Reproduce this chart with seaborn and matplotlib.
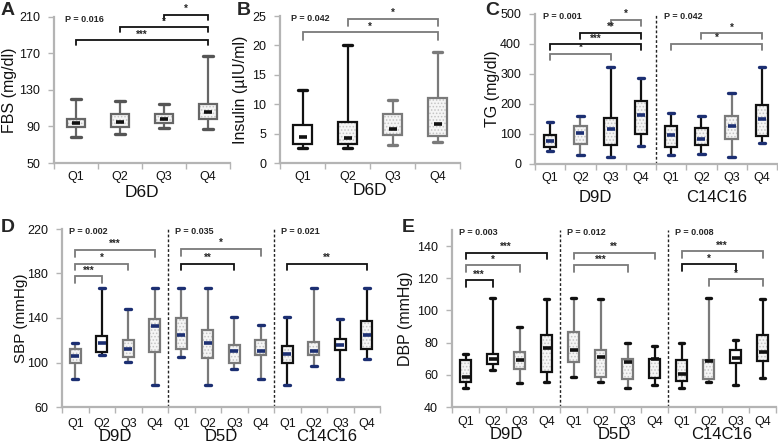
import numpy as np
import matplotlib
matplotlib.use('Agg')
import matplotlib.pyplot as plt
from matplotlib.patches import PathPatch
import seaborn as sns

sns.set_style('white')
plt.rcParams['font.family'] = ['Liberation Sans', 'DejaVu Sans']
plt.rcParams['hatch.linewidth'] = 0.7

quartiles = ['Q1', 'Q2', 'Q3', 'Q4']

# A: fasting blood sugar by D6D quartile
fbs_low = [78, 81.6, 88.5, 87.4]
fbs_q1 = [89, 89.6, 93.3, 98.1]
fbs_med = [93.3, 94.8, 98.4, 105.8]
fbs_q3 = [98.5, 103.6, 104, 115]
fbs_high = [120.5, 118.3, 114.6, 167.8]
fbs_groups = ['D6D']
fbs_pvals = ['P = 0.016']
fbs_pairs = [(2, 3, '*'), (1, 3, '*'), (0, 3, '***')]
fbs_levels = [212.6, 198.6, 184.7]

# B: insulin by D6D quartile
ins_low = [2.5, 2.5, 3.1, 3.5]
ins_q1 = [3.3, 3.2, 4.7, 4.6]
ins_med = [4.5, 4.2, 5.8, 6.7]
ins_q3 = [6.5, 6.9, 8.3, 11.1]
ins_high = [12.5, 20.1, 10.7, 18.9]
ins_groups = ['D6D']
ins_pvals = ['P = 0.042']
ins_pairs = [(1, 3, '*'), (0, 3, '*')]
ins_levels = [24.5, 22.2]

# C: triglycerides by D9D and C14C16 quartiles
tg_low = [42, 29, 24, 58.6, 29, 32, 24, 70]
tg_q1 = [57.5, 67.5, 62, 98.5, 57.5, 63, 82, 92]
tg_med = [76, 104, 118, 164, 95, 82, 126, 151.5]
tg_q3 = [96, 125, 154, 209, 126, 119.5, 161.5, 198]
tg_high = [139, 160, 323, 286.5, 170, 161.5, 238, 323]
tg_groups = ['D9D', 'C14C16']
tg_pvals = ['P = 0.001', 'P = 0.042']
tg_pairs = [(2, 3, '*'), (1, 3, '**'), (0, 3, '***'), (0, 2, '*'),
            (5, 7, '*'), (4, 7, '*')]
tg_levels = [481, 437, 399, 368, 436, 400]

# D: systolic blood pressure by D9D, D5D and C14C16 quartiles
sbp_low = [85.4, 106.3, 100.6, 80, 105, 80, 94.6, 85.4, 80, 97, 85.4, 103]
sbp_q1 = [99.4, 109.6, 104.8, 109.3, 112.5, 103.9, 100, 106.9, 99.4, 106.3, 111, 112.2]
sbp_med = [105.7, 117.6, 112.5, 132.5, 125, 117.9, 110.4, 110.4, 107.5, 110.4, 116.1, 124.5]
sbp_q3 = [112, 123.6, 120.6, 139.4, 140, 129.6, 115.5, 120.6, 115.2, 118.2, 120.9, 137.3]
sbp_high = [117.6, 166.9, 148.4, 166.9, 166.9, 166.9, 141.2, 133.7, 141.2, 166.9, 139.4, 166.9]
sbp_groups = ['D9D', 'D5D', 'C14C16']
sbp_pvals = ['P = 0.002', 'P = 0.035', 'P = 0.021']
sbp_pairs = [(0, 3, '***'), (0, 2, '*'), (0, 1, '***'),
             (4, 7, '*'), (4, 6, '**'), (8, 11, '**')]
sbp_levels = [201.2, 188.7, 177.6, 202, 188.7, 188.7]

# E: diastolic blood pressure by D9D, D5D and C14C16 quartiles
dbp_low = [52, 63, 54.9, 55.7, 58.6, 55.7, 52, 53.9, 52, 55.7, 53.9, 58.2]
dbp_q1 = [55.7, 66.5, 63.6, 61.7, 68, 58.4, 57.6, 57.8, 56.4, 57.4, 67.1, 68.6]
dbp_med = [58.6, 70, 69.2, 76.9, 75.6, 71, 68, 69.6, 60.7, 68.5, 70.6, 74.2]
dbp_q3 = [69, 73.1, 74.4, 84.7, 86.4, 75.6, 69.6, 70, 69.4, 69, 75.2, 84.7]
dbp_high = [72.9, 107.9, 89.9, 107, 107.9, 107, 80, 77.9, 80, 107.9, 81.4, 107]
dbp_groups = ['D9D', 'D5D', 'C14C16']
dbp_pvals = ['P = 0.003', 'P = 0.012', 'P = 0.008']
dbp_pairs = [(0, 3, '***'), (0, 2, '*'), (0, 1, '***'),
             (4, 7, '**'), (4, 6, '***'),
             (8, 11, '***'), (8, 10, '*'), (9, 11, '*')]
dbp_levels = [135.9, 128, 118.7, 135.9, 128, 136.7, 128.6, 119.3]

NAVY = '#1c2f72'
DARK = '#111111'
GREY = '#7a7a7a'
AXIS = '#b4b4b4'


def draw_boxes(ax, low, q1, med, q3, high, edges, plain, cap_color, med_color):
    stats = [dict(whislo=a, q1=b, med=c, q3=d, whishi=e)
             for a, b, c, d, e in zip(low, q1, med, q3, high)]
    n = len(stats)
    art = ax.bxp(stats, positions=range(n), widths=0.42, capwidths=0.22,
                 patch_artist=True, showfliers=False,
                 medianprops=dict(linewidth=0))
    for i, box in enumerate(art['boxes']):
        box.set_edgecolor(edges[i])
        box.set_linewidth(1.6)
        box.set_zorder(3)
        if plain[i]:
            box.set_facecolor('white')
        else:
            box.set_facecolor('none')
            ax.add_patch(PathPatch(box.get_path(), facecolor='#f5f5f5',
                                   edgecolor='#c4c4c4', lw=0, hatch='.....',
                                   zorder=2.9))
        for w in art['whiskers'][2 * i:2 * i + 2]:
            w.set_color(edges[i])
            w.set_linewidth(1.6)
        for c in art['caps'][2 * i:2 * i + 2]:
            c.set_color(cap_color if cap_color else edges[i])
            c.set_linewidth(2.4)
    ax.plot(range(n), med, ls='none', marker='_', ms=6, mew=2.6,
            color=med_color, zorder=5)


def style_axes(ax, n, ylim, yticks, ylabel, label_x, label_size,
               groups, pvals, q_pad, group_off, group_size):
    ax.set_xlim(-0.5, n - 0.5)
    ax.set_ylim(*ylim)
    ax.set_yticks(yticks)
    ax.set_xticks(range(n))
    ax.set_xticklabels(quartiles * (n // 4))
    ax.set_xticks(np.arange(-0.5, n + 0.5), minor=True)
    ax.tick_params(axis='x', which='major', length=0, pad=q_pad, labelsize=9,
                   colors=DARK)
    ax.tick_params(axis='x', which='minor', bottom=True, length=4,
                   color=AXIS, width=1)
    ax.tick_params(axis='y', left=True, length=4, color=AXIS, width=1, pad=6,
                   labelsize=9, labelcolor=DARK)
    for s in ['top', 'right']:
        ax.spines[s].set_visible(False)
    for s in ['left', 'bottom']:
        ax.spines[s].set_color(AXIS)
        ax.spines[s].set_linewidth(1.6)
    ax.set_ylabel(ylabel, fontsize=label_size, color=DARK)
    ax.yaxis.set_label_coords(label_x, 0.5)
    for g, name in enumerate(groups):
        ax.annotate(name, xy=(4 * g + 1.5, 0), xycoords=('data', 'axes fraction'),
                    xytext=(0, -group_off), textcoords='offset points',
                    ha='center', va='top', fontsize=group_size, color=DARK)
        ax.text(4 * g - 0.25, 0.985, pvals[g], transform=ax.get_xaxis_transform(),
                ha='left', va='center', fontsize=6.5, fontweight='bold')
        if g > 0:
            ax.axvline(4 * g - 0.5, color='#222222', ls=(0, (2, 1.5)), lw=1)


def draw_brackets(ax, pairs, levels, cols, tick):
    for (i, j, stars), y, c in zip(pairs, levels, cols):
        ax.plot([i, i, j, j], [y - tick, y, y, y - tick], color=c, lw=1.3,
                clip_on=False, solid_joinstyle='miter')
        ax.annotate(stars, xy=((i + j) / 2, y), xytext=(0, 0.5),
                    textcoords='offset points', ha='center', va='bottom',
                    fontsize=7, fontweight='bold', annotation_clip=False)


fig = plt.figure(figsize=(7.78, 4.44), dpi=100)
W, H = 778, 444


def add_ax(x0, x1, ytop, ybot):
    return fig.add_axes([x0 / W, 1 - ybot / H, (x1 - x0) / W, (ybot - ytop) / H])


axA = add_ax(54, 230, 17, 163)
axB = add_ax(280, 460, 16, 163)
axC = add_ax(535, 777, 14, 164)
axD = add_ax(62, 380, 229, 407)
axE = add_ax(452, 776, 230, 407)

draw_boxes(axA, fbs_low, fbs_q1, fbs_med, fbs_q3, fbs_high,
           ['#666666'] * 4, [False] * 4, '#555555', DARK)
style_axes(axA, 4, (50, 210), [50, 90, 130, 170, 210], 'FBS (mg/dl)', -0.21, 11.5,
           fbs_groups, fbs_pvals, 6, 15.5, 12.5)
draw_brackets(axA, fbs_pairs, fbs_levels, [DARK] * 3, 5.5)

draw_boxes(axB, ins_low, ins_q1, ins_med, ins_q3, ins_high,
           [DARK, DARK, GREY, GREY], [True, False, False, False], None, DARK)
style_axes(axB, 4, (0, 25), [0, 5, 10, 15, 20, 25], 'Insulin (µIU/ml)', -0.178, 11.5,
           ins_groups, ins_pvals, 6, 14.5, 12.5)
draw_brackets(axB, ins_pairs, ins_levels, [GREY, GREY], 1.2)

draw_boxes(axC, tg_low, tg_q1, tg_med, tg_q3, tg_high,
           [DARK, GREY, DARK, DARK, DARK, DARK, GREY, DARK],
           [False] * 8, NAVY, NAVY)
style_axes(axC, 8, (0, 500), [0, 100, 200, 300, 400, 500], 'TG (mg/dl)', -0.144, 11.5,
           tg_groups, tg_pvals, 5.5, 18.5, 12)
draw_brackets(axC, tg_pairs, tg_levels,
              [GREY, DARK, DARK, GREY, GREY, GREY], 20)

draw_boxes(axD, sbp_low, sbp_q1, sbp_med, sbp_q3, sbp_high,
           [GREY, DARK, GREY, GREY, GREY, GREY, GREY, GREY, DARK, GREY, DARK, DARK],
           [False, True] + [False] * 8 + [True, False], NAVY, NAVY)
style_axes(axD, 12, (60, 220), [60, 100, 140, 180, 220], 'SBP (mmHg)', -0.106, 11,
           sbp_groups, sbp_pvals, 8, 16, 12)
draw_brackets(axD, sbp_pairs, sbp_levels,
              [GREY, GREY, GREY, GREY, DARK, DARK], 6)

draw_boxes(axE, dbp_low, dbp_q1, dbp_med, dbp_q3, dbp_high,
           [DARK, DARK, GREY, DARK, GREY, GREY, GREY, DARK, DARK, GREY, DARK, DARK],
           [False, True] + [False] * 8 + [True, False], DARK, DARK)
style_axes(axE, 12, (40, 150), [40, 60, 80, 100, 120, 140], 'DBP (mmHg)', -0.12, 11.5,
           dbp_groups, dbp_pvals, 6.5, 14.5, 12)
draw_brackets(axE, dbp_pairs, dbp_levels,
              [DARK, GREY, DARK, GREY, GREY, GREY, DARK, GREY], 4)

for letter, x, y in [('A', 1, 2), ('B', 237, 2), ('C', 485, 2), ('D', 1, 219), ('E', 402, 219)]:
    fig.text(x / W, 1 - y / H, letter, fontsize=14, fontweight='bold',
             va='top', ha='left')

fig.savefig('out.png', dpi=100)
